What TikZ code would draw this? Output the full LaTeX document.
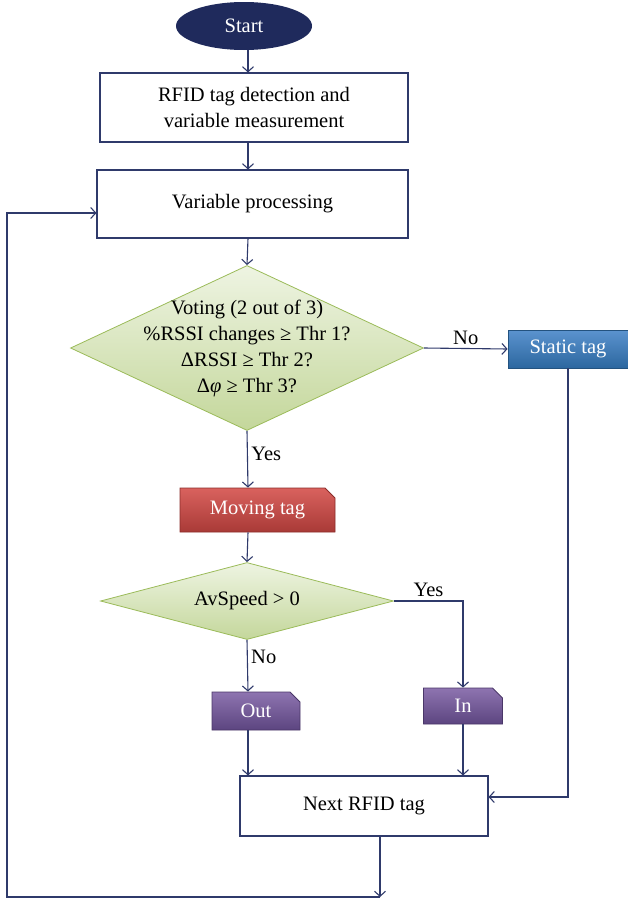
\documentclass[tikz,border=0pt]{standalone}
\usepackage{fontspec}
\setmainfont{Liberation Serif}
\usetikzlibrary{shapes.geometric,shapes.misc,arrows.meta}

\definecolor{navy}{HTML}{1F2A5C}
\definecolor{linec}{HTML}{2F3A6B}
\definecolor{greenl}{HTML}{EEF4E2}
\definecolor{greend}{HTML}{C4D79B}
\definecolor{greenb}{HTML}{9BBB59}
\definecolor{redl}{HTML}{D9625E}
\definecolor{redd}{HTML}{A93A37}
\definecolor{redb}{HTML}{8B2D2A}
\definecolor{bluel}{HTML}{5B93CF}
\definecolor{blued}{HTML}{2C679F}
\definecolor{blueb}{HTML}{23527F}
\definecolor{purl}{HTML}{8E74B0}
\definecolor{purd}{HTML}{5C4580}
\definecolor{purb}{HTML}{4A3768}

\begin{document}
\begin{tikzpicture}[x=1pt, y=-1pt,
        font=\fontsize{20.5}{26}\selectfont,
        arr/.style={draw=linec, line width=1.1pt, -{Straight Barb[length=5pt,width=11pt]}},
        box/.style={rectangle, draw=linec, line width=1.1pt, fill=white, align=center},
        decision/.style={diamond, draw=greenb, line width=0.8pt, top color=greenl, bottom color=greend, align=center, inner sep=0pt},
        tag/.style={chamfered rectangle, chamfered rectangle corners=north east, chamfered rectangle xsep=5pt, chamfered rectangle ysep=5pt, line width=0.8pt, text=white, inner sep=0pt},
        startnode/.style={ellipse, fill=navy, text=white, inner sep=0pt, minimum width=136pt, minimum height=48pt}]
        \useasboundingbox (0,0) rectangle (628,902);

        \coordinate (col) at (248,0);
        \coordinate (loop) at (380,897);
        \coordinate (back) at (7,897);

        \node[startnode] (start) at (244,26) {Start};
        \node[box, minimum width=308pt, minimum height=69pt] (detect) at (254,107.5) {RFID tag detection and\\variable measurement};
        \node[box, minimum width=311pt, minimum height=68pt] (proc) at (252.5,204) {Variable processing};
        \node[decision, aspect=2.14, minimum width=353pt, minimum height=165pt, inner ysep=-30pt] (vote) at (247,348) {Voting (2 out of 3)\\\%RSSI changes ≥ Thr 1?\\ΔRSSI ≥ Thr 2?\\Δ\textit{φ} ≥ Thr 3?};
        \node[rectangle, draw=blueb, line width=0.8pt, top color=bluel, bottom color=blued, text=white, minimum width=120pt, minimum height=38pt] (static) at (568,349) {Static tag};
        \node[tag, draw=redb, top color=redl, bottom color=redd, minimum width=155pt, minimum height=44pt] (moving) at (257.5,510) {Moving tag};
        \node[decision, aspect=3.8, minimum width=293pt, minimum height=77pt] (speed) at (247,601) {AvSpeed > 0};
        \node[tag, draw=purb, top color=purl, bottom color=purd, minimum width=88pt, minimum height=38pt] (out) at (256,711) {Out};
        \node[tag, draw=purb, top color=purl, bottom color=purd, minimum width=79pt, minimum height=36pt] (in) at (463,706) {In};
        \node[box, minimum width=248pt, minimum height=60pt] (next) at (364,806) {Next RFID tag};

        \draw[arr] (start.south -| col) -- (detect.north -| col);
        \draw[arr] (detect.south -| col) -- (proc.north -| col);
        \draw[arr] (proc.south -| col) -- (vote.north);
        \draw[arr] (vote.east) -- node[above]{No} (static.west);
        \draw[arr] (vote.south) -- node[pos=0.4, right]{Yes} (moving.north -| col);
        \draw[arr] (moving.south -| col) -- (speed.north);
        \draw[arr] (speed.east) -| node[pos=0.25, above]{Yes} (in.north);
        \draw[arr] (speed.south) -- node[pos=0.33, right]{No} (out.north -| col);
        \draw[arr] (out.south -| col) -- (next.north -| col);
        \draw[arr] (in.south) -- (next.north -| in);
        \draw[arr] (static.south) |- ([yshift=9pt]next.east);
        \draw[arr] ([xshift=16pt]next.south) -- (loop);
        \draw[arr] (loop) -- (back) |- ([yshift=-9pt]proc.west);
    \end{tikzpicture}
\end{document}
